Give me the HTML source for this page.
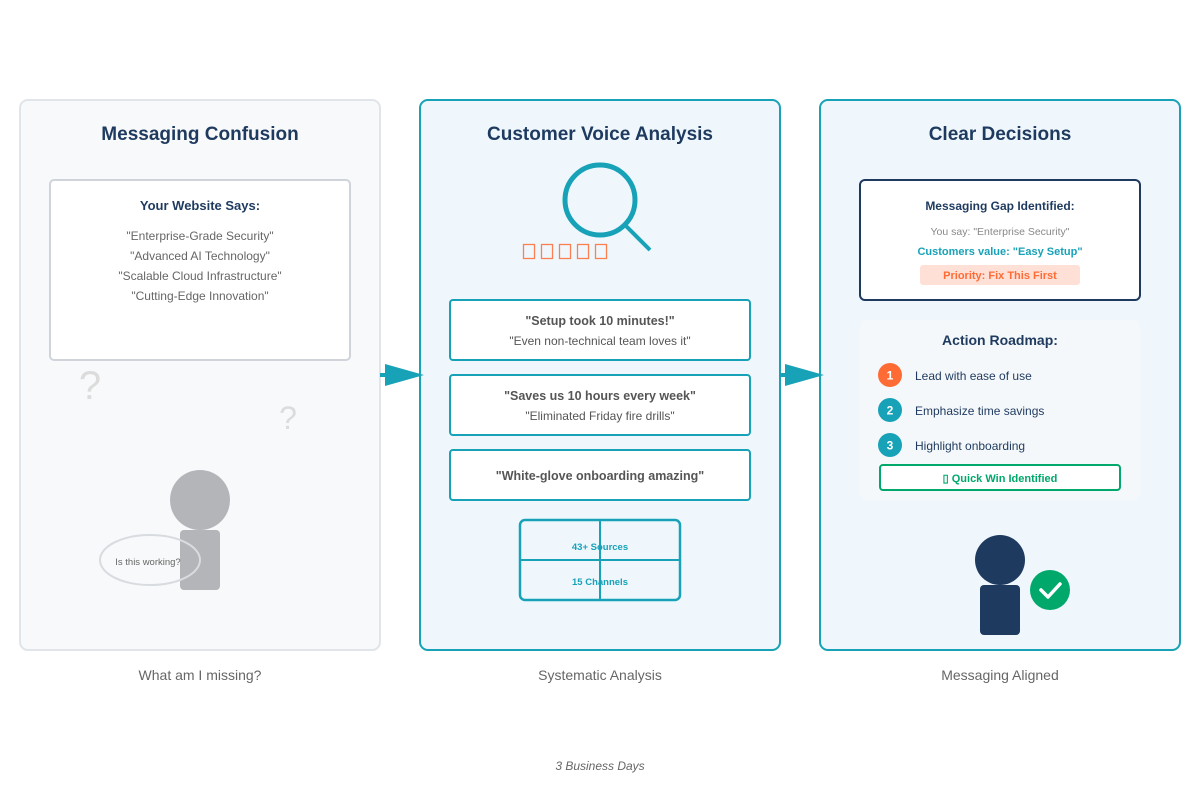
<!DOCTYPE html>
<html><head><meta charset="utf-8"><style>body{margin:0;background:#fff}svg{display:block;font-family:"Liberation Sans",sans-serif}</style></head><body>
<svg width="1200" height="800" viewBox="0 0 1200 800">
<rect x="20" y="100" width="360" height="550" rx="8" fill="#f8f9fa" stroke="#e1e4e8" stroke-width="2"/>
<rect x="420" y="100" width="360" height="550" rx="8" fill="#eff7fd" stroke="#17a2b8" stroke-width="2"/>
<rect x="820" y="100" width="360" height="550" rx="8" fill="#eff7fd" stroke="#17a2b8" stroke-width="2"/>
<g font-weight="bold" font-size="19" fill="#1e3a5f" text-anchor="middle">
<text x="200" y="140">Messaging Confusion</text>
<text x="600" y="140">Customer Voice Analysis</text>
<text x="1000" y="140">Clear Decisions</text></g>
<!-- arrows -->
<line x1="380" y1="375" x2="390" y2="375" stroke="#17a2b8" stroke-width="4"/>
<polygon points="385,364 424,375 385,386" fill="#17a2b8"/>
<line x1="780" y1="375" x2="790" y2="375" stroke="#17a2b8" stroke-width="4"/>
<polygon points="785,364 824,375 785,386" fill="#17a2b8"/>
<!-- panel1 -->
<rect x="50" y="180" width="300" height="180" rx="4" fill="#fff" stroke="#d0d4da" stroke-width="2"/>
<text x="200" y="210" text-anchor="middle" font-weight="bold" font-size="13" fill="#1e3a5f">Your Website Says:</text>
<g font-size="12" fill="#666" text-anchor="middle">
<text x="200" y="240">"Enterprise-Grade Security"</text>
<text x="200" y="260">"Advanced AI Technology"</text>
<text x="200" y="280">"Scalable Cloud Infrastructure"</text>
<text x="200" y="300">"Cutting-Edge Innovation"</text></g>
<text x="90" y="399" text-anchor="middle" font-size="40" fill="#dcdcdc">?</text>
<text x="288" y="429" text-anchor="middle" font-size="32" fill="#dcdcdc">?</text>
<circle cx="200" cy="500" r="30" fill="#b3b5b8"/>
<rect x="180" y="530" width="40" height="60" rx="4" fill="#b3b5b8"/>
<ellipse cx="150" cy="560" rx="50" ry="25" fill="none" stroke="#d8dbe0" stroke-width="2"/>
<text x="148" y="565" text-anchor="middle" font-size="9.5" fill="#666">Is this working?</text>
<!-- panel2 -->
<circle cx="600" cy="200" r="35" fill="none" stroke="#17a2b8" stroke-width="5"/>
<line x1="626" y1="226" x2="650" y2="250" stroke="#17a2b8" stroke-width="4"/>
<g fill="none" stroke="#ff6b35" stroke-width="1.3" opacity="0.85">
<rect x="523.5" y="244.5" width="11" height="14"/><rect x="541.5" y="244.5" width="11" height="14"/><rect x="559.5" y="244.5" width="11" height="14"/><rect x="577.5" y="244.5" width="11" height="14"/><rect x="595.5" y="244.5" width="11" height="14"/></g>
<g fill="#fff" stroke="#17a2b8" stroke-width="2">
<rect x="450" y="300" width="300" height="60" rx="3"/>
<rect x="450" y="375" width="300" height="60" rx="3"/>
<rect x="450" y="450" width="300" height="50" rx="3"/></g>
<g text-anchor="middle" fill="#555">
<text x="600" y="325" font-size="12.5" font-weight="bold">"Setup took 10 minutes!"</text>
<text x="600" y="345" font-size="12">"Even non-technical team loves it"</text>
<text x="600" y="400" font-size="12.5" font-weight="bold">"Saves us 10 hours every week"</text>
<text x="600" y="420" font-size="12">"Eliminated Friday fire drills"</text>
<text x="600" y="480" font-size="12.5" font-weight="bold">"White-glove onboarding amazing"</text></g>
<rect x="520" y="520" width="160" height="80" rx="5" fill="none" stroke="#17a2b8" stroke-width="2.5"/>
<line x1="600" y1="520" x2="600" y2="600" stroke="#17a2b8" stroke-width="2"/>
<line x1="520" y1="560" x2="680" y2="560" stroke="#17a2b8" stroke-width="2"/>
<g text-anchor="middle" font-size="9.5" font-weight="bold" fill="#17a2b8">
<text x="600" y="550">43+ Sources</text><text x="600" y="585">15 Channels</text></g>
<!-- panel3 -->
<rect x="860" y="180" width="280" height="120" rx="5" fill="#fff" stroke="#1e3a5f" stroke-width="2"/>
<text x="1000" y="210" text-anchor="middle" font-size="12" font-weight="bold" fill="#1e3a5f">Messaging Gap Identified:</text>
<text x="1000" y="235" text-anchor="middle" font-size="10.5" fill="#888">You say: "Enterprise Security"</text>
<text x="1000" y="255" text-anchor="middle" font-size="11" font-weight="bold" fill="#17a2b8">Customers value: "Easy Setup"</text>
<rect x="920" y="265" width="160" height="20" rx="3" fill="#ffe0d6"/>
<text x="1000" y="279" text-anchor="middle" font-size="11" font-weight="bold" fill="#ff6b35">Priority: Fix This First</text>
<rect x="860" y="320" width="280" height="180" rx="7" fill="#f5f8fa"/>
<text x="1000" y="345" text-anchor="middle" font-size="14" font-weight="bold" fill="#1e3a5f">Action Roadmap:</text>
<circle cx="890" cy="375" r="12" fill="#ff6b35"/><circle cx="890" cy="410" r="12" fill="#17a2b8"/><circle cx="890" cy="445" r="12" fill="#17a2b8"/>
<g text-anchor="middle" font-size="12" font-weight="bold" fill="#fff">
<text x="890" y="379.5">1</text><text x="890" y="414.5">2</text><text x="890" y="449.5">3</text></g>
<g font-size="12" fill="#1e3a5f">
<text x="915" y="380">Lead with ease of use</text><text x="915" y="415">Emphasize time savings</text><text x="915" y="450">Highlight onboarding</text></g>
<rect x="880" y="465" width="240" height="25" rx="3" fill="#fff" stroke="#00a86b" stroke-width="2"/>
<text x="1000" y="482" text-anchor="middle" font-size="11" font-weight="bold" fill="#00a86b">▯ Quick Win Identified</text>
<circle cx="1000" cy="560" r="25" fill="#1e3a5f"/>
<rect x="980" y="585" width="40" height="50" rx="4" fill="#1e3a5f"/>
<circle cx="1050" cy="590" r="20" fill="#00a86b"/>
<polyline points="1041,590 1048,597 1060,584" fill="none" stroke="#fff" stroke-width="3.5" stroke-linecap="round" stroke-linejoin="round"/>
<g text-anchor="middle" font-size="14" fill="#666">
<text x="200" y="680">What am I missing?</text><text x="600" y="680">Systematic Analysis</text><text x="1000" y="680">Messaging Aligned</text></g>
<text x="600" y="770" text-anchor="middle" font-size="12" font-style="italic" fill="#666">3 Business Days</text>
</svg>
</body></html>
